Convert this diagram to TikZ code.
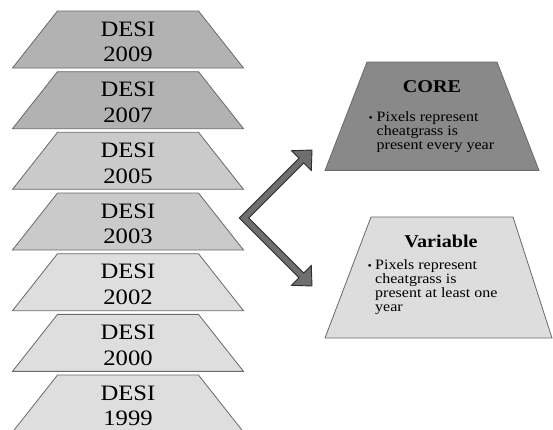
\documentclass[tikz,border=0pt]{standalone}
\usepackage{fontspec}
\setmainfont[FakeStretch=1.12]{Liberation Serif}
\definecolor{laydk}{RGB}{178,178,178}
\definecolor{laymd}{RGB}{202,202,202}
\definecolor{laylt}{RGB}{222,222,222}
\definecolor{corefill}{RGB}{137,137,137}
\definecolor{varfill}{RGB}{221,221,221}
\definecolor{edge}{RGB}{105,105,105}
\definecolor{arrowfill}{RGB}{110,110,110}
\definecolor{arrowedge}{RGB}{45,45,45}
\begin{document}
\begin{tikzpicture}[x=1pt,y=-1pt,
  layer/.style={draw=edge,line width=0.8pt},
  desi/.style={anchor=base,inner sep=0pt,font=\fontsize{22}{22}\selectfont},
  head/.style={anchor=base,inner sep=0pt,font=\fontsize{18}{18}\selectfont\bfseries},
  bul/.style={anchor=base west,inner sep=0pt,font=\fontsize{14.3}{14}\selectfont},
  bigarrow/.style={draw=arrowedge,fill=arrowfill,line width=0.9pt,line join=miter,miter limit=4}]
\useasboundingbox (0,0) rectangle (553,429);
\clip (0,0) rectangle (553,429);
\fill[white] (0,0) rectangle (553,429);
\foreach \i/\yr/\col in {0/2009/laydk,1/2007/laydk,2/2005/laymd,3/2003/laymd,4/2002/laylt,5/2000/laylt,6/1999/laylt}{
  \pgfmathsetmacro\ty{11+60.67*\i}
  \draw[layer,fill=\col] (57.5,\ty) -- (198.5,\ty) -- (243.5,\ty+57) -- (12.5,\ty+57) -- cycle;
  \node[desi] (d\yr) at (128,\ty+25) {DESI};
  \node[desi] (y\yr) at (128,\ty+50.7) {\yr};
}
% bent double arrow
\draw[bigarrow] (239.33,218) -- (299.06,158.28) -- (291.49,150.71) -- (312,150) -- (311.29,170.51) -- (303.72,162.94) -- (248.67,218) -- (303.72,273.06) -- (311.29,265.49) -- (312,286) -- (291.49,285.29) -- (299.06,277.72) -- cycle;
% CORE
\draw[layer,fill=corefill] (367,62) -- (497,62) -- (539,170.5) -- (325,170.5) -- cycle;
\node[head] (core) at (432,92) {CORE};
\node[bul] (cb) at (368.5,121.7) {\fontsize{11}{11}\selectfont •};
\node[bul] (c1) at (376.5,121.7) {Pixels represent};
\node[bul] (c2) at (376.5,135.8) {cheatgrass is};
\node[bul] (c3) at (376.5,149.6) {present every year};
% Variable
\draw[layer,fill=varfill] (371,217) -- (513,217) -- (552,338) -- (325,338) -- cycle;
\node[head] (var) at (441,247.7) {Variable};
\node[bul] (vb) at (367.5,269.3) {\fontsize{11}{11}\selectfont •};
\node[bul] (v1) at (375,269.3) {Pixels represent};
\node[bul] (v2) at (375,283.5) {cheatgrass is};
\node[bul] (v3) at (375,297.5) {present at least one};
\node[bul] (v4) at (375,311.7) {year};
\end{tikzpicture}
\end{document}
